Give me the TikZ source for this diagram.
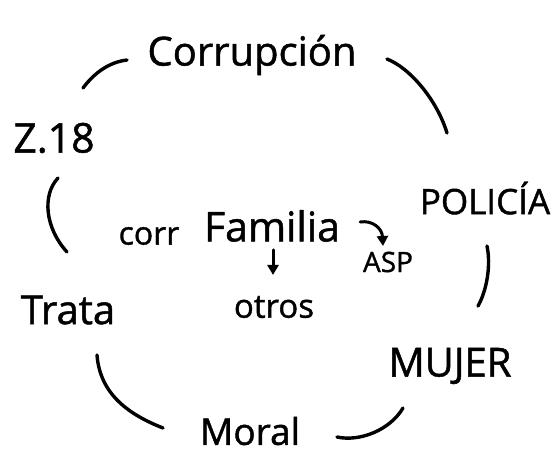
\documentclass[tikz,border=0pt]{standalone}
\usepackage{fontspec}
\setmainfont{Open Sans}[FakeBold=1.2]
\usetikzlibrary{arrows.meta}
\begin{document}
\begin{tikzpicture}[x=1pt,y=-1pt,
  lbl/.style={inner sep=0pt,anchor=center},
  arc/.style={line width=3.4pt,line cap=round,black},
  arr/.style={line width=3pt,line cap=round,-{Triangle[length=10pt,width=11pt]}}]
\useasboundingbox[fill=white] (0,0) rectangle (551,453);
\node[lbl] (corr) at (252,55) {\fontsize{40}{42}\selectfont Corrupción};
\node[lbl] (z18) at (54,138) {\fontsize{41}{43}\selectfont Z.18};
\node[lbl] (pol) at (485,198) {\fontsize{35}{37}\selectfont POLICÍA};
\node[lbl] (corrw) at (149,236) {\fontsize{32}{34}\selectfont corr};
\node[lbl] (fam) at (272,226) {\fontsize{41}{43}\selectfont Familia};
\node[lbl] (asp) at (388,262) {\fontsize{28}{30}\selectfont ASP};
\node[lbl] (otros) at (274,307) {\fontsize{33}{35}\selectfont otros};
\node[lbl] (trata) at (68,310) {\fontsize{40}{42}\selectfont Trata};
\node[lbl] (mujer) at (450,366) {\fontsize{40}{42}\selectfont MUJER};
\node[lbl] (moral) at (250,431) {\fontsize{37}{39}\selectfont Moral};
% arc endpoints
\coordinate (a1) at (83,88);   \coordinate (a2) at (127,60);
\coordinate (b1) at (387,59);  \coordinate (b2) at (447,133);
\coordinate (c1) at (58,178);  \coordinate (c2) at (67,252);
\coordinate (d1) at (487,246); \coordinate (d2) at (478,306);
\coordinate (e1) at (97,355);  \coordinate (e2) at (163,428);
\coordinate (f1) at (337,437); \coordinate (f2) at (403,408);
\draw[arc] (a1) .. controls (95,72) and (110,62) .. (a2);
\draw[arc] (b1) .. controls (410,68) and (437,100) .. (b2);
\draw[arc] (c1) .. controls (42,195) and (45,228) .. (c2);
\draw[arc] (d1) .. controls (491,265) and (487,290) .. (d2);
\draw[arc] (e1) .. controls (100,395) and (130,415) .. (e2);
\draw[arc] (f1) .. controls (360,442) and (390,430) .. (f2);
\draw[arr] (fam.east) ++(20,-4) coordinate (g1) .. controls (372,220) and (382,228) .. (383,246) coordinate (g2);
\draw[arr] (fam.south) ++(1,8) coordinate (h1) -- ++(0,25) coordinate (h2);
\end{tikzpicture}
\end{document}
